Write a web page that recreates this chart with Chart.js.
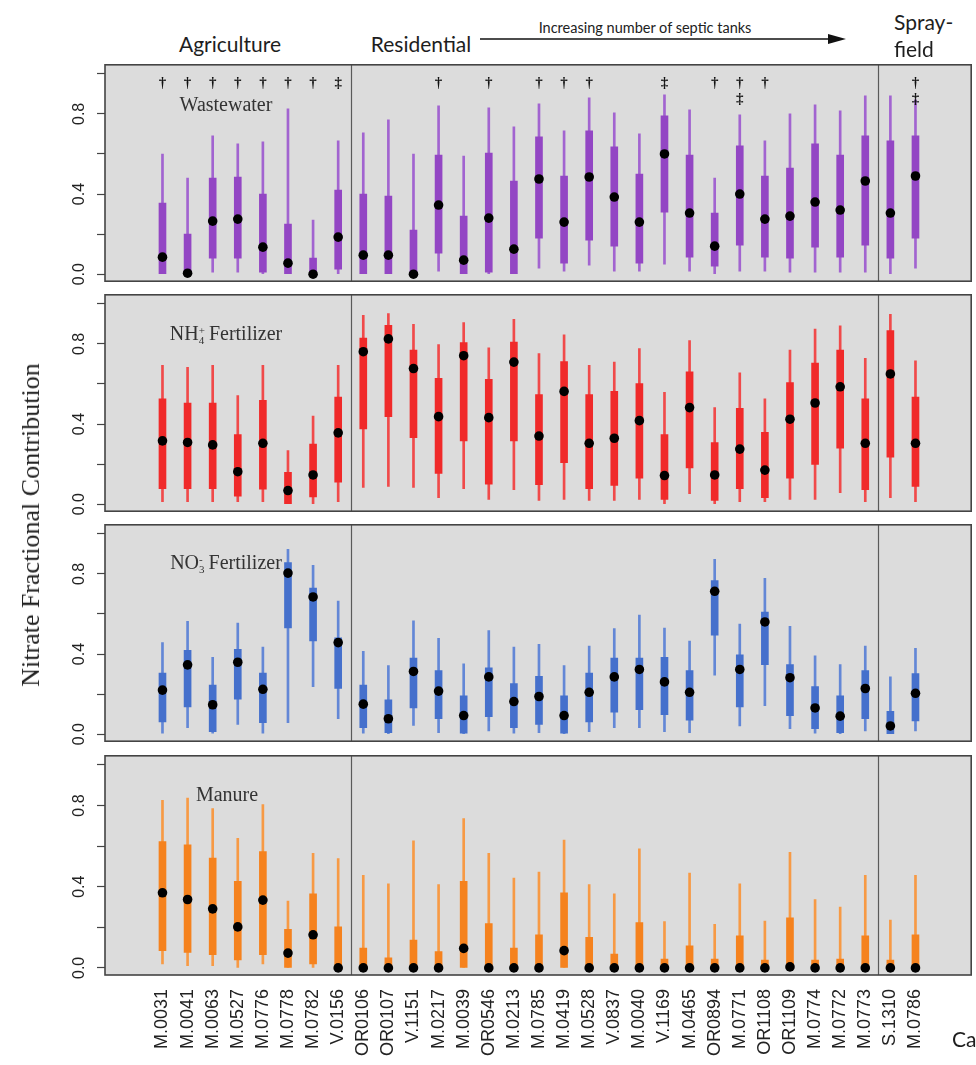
<!DOCTYPE html>
<html>
<head>
<meta charset="utf-8">
<title>Nitrate fractional contribution by well</title>
<script src="https://cdn.jsdelivr.net/npm/chart.js@4.4.1/dist/chart.umd.min.js"></script>
<style>
    body { margin: 0; background: #fff; }
    #figure { position: relative; width: 976px; height: 1065px; overflow: hidden; background: #fff; }
    #figure canvas { position: absolute; left: 0; }
    .note { position: absolute; white-space: nowrap; transform: translate(-50%, -50%); z-index: 2; }
    .group { font-family: Lato, "Open Sans", sans-serif; font-size: 21px; color: #1e1e1e; }
    .source { font-family: "Liberation Serif", "Times New Roman", serif; font-size: 20px; color: #333; }
    .ion { display: inline-flex; flex-direction: column; font-size: 11px; line-height: 10px; vertical-align: 6px; margin-right: 4px; }
    #septic { font-family: Lato, "Open Sans", sans-serif; font-size: 14.5px; color: #222; }
    #yTitle { font-family: "Liberation Serif", "Times New Roman", serif; font-size: 26px; color: #222;
              transform: translate(-50%, -50%) rotate(-90deg); }
    #arrow { position: absolute; left: 480px; top: 30px; }
</style>
</head>
<body>
<div id="figure">
    <canvas id="wastewaterChart" width="976" height="226" style="top:60px"></canvas>
    <canvas id="ammoniumChart" width="976" height="226" style="top:290px"></canvas>
    <canvas id="nitrateChart" width="976" height="226" style="top:520px"></canvas>
    <canvas id="manureChart" width="976" height="314" style="top:751px"></canvas>

    <div class="note group" style="left:230px; top:43px">Agriculture</div>
    <div class="note group" style="left:421px; top:43px">Residential</div>
    <div class="note" id="septic" style="left:645px; top:27px">Increasing number of septic tanks</div>
    <svg id="arrow" width="370" height="18">
        <line x1="0" y1="9" x2="352" y2="9" stroke="#111" stroke-width="1.6"/>
        <polygon points="366,9 348,4 348,14" fill="#111"/>
    </svg>
    <div class="note group" style="left:894px; top:21px; transform:translate(0,-50%)">Spray-</div>
    <div class="note group" style="left:894px; top:48px; transform:translate(0,-50%)">field</div>

    <div class="note source" style="left:226px; top:104px">Wastewater</div>
    <div class="note source" style="left:226px; top:333px">NH<span class="ion"><span>+</span><span>4</span></span>Fertilizer</div>
    <div class="note source" style="left:226px; top:562px">NO<span class="ion"><span>-</span><span>3</span></span>Fertilizer</div>
    <div class="note source" style="left:227px; top:794px">Manure</div>

    <div class="note" id="yTitle" style="left:31px; top:525px">Nitrate Fractional Contribution</div>
    <div class="note group" style="left:952px; top:1038px; transform:translate(0,-50%)">Ca</div>
</div>

<script>
"use strict";

const sites = [
    "M.0031", "M.0041", "M.0063", "M.0527", "M.0776", "M.0778", "M.0782", "V.0156",
    "OR0106", "OR0107", "V.1151", "M.0217", "M.0039", "OR0546", "M.0213", "M.0785",
    "M.0419", "M.0528", "V.0837", "M.0040", "V.1169", "M.0465", "OR0894", "M.0771",
    "OR1108", "OR1109", "M.0774", "M.0772", "M.0773", "S.1310", "M.0786"
];

const yTickValues = [0, 0.2, 0.4, 0.6, 0.8, 1.0];
const yTickLabels = ["0.0", "", "0.4", "", "0.8", ""];

// land-use boundaries: agriculture | residential | sprayfield
const groupBreaks = [8.5, 29.5];

// significance marks above the wastewater boxes
const markFirstRow = [
    "†", "†", "†", "†", "†", "†", "†", "‡",
    "", "", "", "†", "", "†", "", "†",
    "†", "†", "", "", "‡", "", "†", "†",
    "†", "", "", "", "", "", "†"
];
const markSecondRow = [
    "", "", "", "", "", "", "", "",
    "", "", "", "", "", "", "", "",
    "", "", "", "", "", "", "", "‡",
    "", "", "", "", "", "", "‡"
];

// Wastewater
const wastewaterMin = [0, 0, 0.01, 0.01, 0, 0, 0, 0, 0, 0, 0, 0.015, 0, 0, 0, 0.03, 0.015, 0.045, 0.015, 0.015, 0.05, 0.015, 0, 0.015, 0.015, 0.01, 0.01, 0.01, 0.01, 0, 0.03];
const wastewaterQ1 = [0, 0, 0.08, 0.08, 0.01, 0, 0, 0.025, 0, 0, 0, 0.105, 0, 0.01, 0, 0.18, 0.055, 0.17, 0.14, 0.055, 0.31, 0.085, 0.04, 0.145, 0.085, 0.08, 0.135, 0.085, 0.145, 0.08, 0.18];
const wastewaterMedian = [0.085, 0.005, 0.265, 0.275, 0.135, 0.055, 0, 0.185, 0.095, 0.095, 0, 0.345, 0.07, 0.28, 0.125, 0.475, 0.26, 0.485, 0.385, 0.26, 0.6, 0.305, 0.14, 0.4, 0.275, 0.29, 0.36, 0.32, 0.465, 0.305, 0.49];
const wastewaterQ3 = [0.355, 0.2, 0.48, 0.485, 0.4, 0.25, 0.08, 0.42, 0.4, 0.39, 0.22, 0.595, 0.29, 0.605, 0.465, 0.685, 0.49, 0.715, 0.635, 0.5, 0.79, 0.595, 0.305, 0.64, 0.49, 0.53, 0.65, 0.595, 0.69, 0.665, 0.69];
const wastewaterMax = [0.6, 0.48, 0.69, 0.65, 0.66, 0.825, 0.27, 0.665, 0.705, 0.77, 0.6, 0.84, 0.59, 0.83, 0.735, 0.85, 0.715, 0.88, 0.805, 0.7, 0.895, 0.82, 0.48, 0.795, 0.665, 0.8, 0.845, 0.815, 0.89, 0.89, 0.87];

// NH4+ fertilizer
const ammoniumMin = [0.013, 0.013, 0.013, 0.013, 0.013, 0, 0, 0.013, 0.084, 0.089, 0.084, 0.032, 0.078, 0.024, 0.073, 0.019, 0.024, 0.019, 0.019, 0.024, 0, 0.052, 0, 0.013, 0.013, 0.024, 0.024, 0.057, 0.013, 0.032, 0.013];
const ammoniumQ1 = [0.078, 0.078, 0.078, 0.04, 0.075, 0.003, 0.036, 0.11, 0.376, 0.437, 0.332, 0.154, 0.316, 0.1, 0.316, 0.097, 0.207, 0.078, 0.094, 0.13, 0.024, 0.181, 0.019, 0.078, 0.032, 0.13, 0.198, 0.279, 0.073, 0.235, 0.089];
const ammoniumMedian = [0.316, 0.308, 0.296, 0.162, 0.304, 0.068, 0.146, 0.356, 0.761, 0.825, 0.677, 0.437, 0.741, 0.432, 0.709, 0.34, 0.563, 0.304, 0.329, 0.417, 0.143, 0.482, 0.146, 0.275, 0.17, 0.424, 0.505, 0.586, 0.304, 0.65, 0.304];
const ammoniumQ3 = [0.526, 0.505, 0.505, 0.348, 0.518, 0.159, 0.3, 0.534, 0.829, 0.893, 0.769, 0.628, 0.806, 0.623, 0.809, 0.547, 0.712, 0.547, 0.563, 0.602, 0.348, 0.66, 0.308, 0.478, 0.359, 0.607, 0.704, 0.769, 0.526, 0.866, 0.534];
const ammoniumMax = [0.693, 0.683, 0.693, 0.542, 0.693, 0.267, 0.44, 0.693, 0.942, 0.951, 0.898, 0.796, 0.906, 0.78, 0.922, 0.752, 0.845, 0.693, 0.709, 0.777, 0.558, 0.817, 0.482, 0.655, 0.526, 0.769, 0.874, 0.89, 0.728, 0.947, 0.715];

// NO3- fertilizer
const nitrateMin = [0.005, 0.033, 0.005, 0.049, 0.005, 0.057, 0.237, 0.077, 0.005, 0, 0.044, 0.008, 0, 0.016, 0.005, 0.008, 0, 0.012, 0.033, 0.033, 0.012, 0.008, 0.294, 0.041, 0.142, 0.028, 0.005, 0, 0.016, 0, 0.016];
const nitrateQ1 = [0.061, 0.136, 0.012, 0.175, 0.057, 0.53, 0.465, 0.228, 0.033, 0.008, 0.131, 0.077, 0.005, 0.087, 0.033, 0.049, 0.005, 0.061, 0.11, 0.122, 0.098, 0.07, 0.494, 0.136, 0.347, 0.093, 0.028, 0.008, 0.077, 0, 0.066];
const nitrateMedian = [0.22, 0.346, 0.147, 0.359, 0.224, 0.804, 0.685, 0.457, 0.15, 0.077, 0.313, 0.215, 0.093, 0.286, 0.163, 0.188, 0.093, 0.209, 0.286, 0.323, 0.261, 0.209, 0.713, 0.323, 0.56, 0.282, 0.131, 0.09, 0.228, 0.041, 0.204];
const nitrateQ3 = [0.305, 0.419, 0.245, 0.424, 0.305, 0.856, 0.729, 0.481, 0.245, 0.171, 0.38, 0.318, 0.191, 0.331, 0.253, 0.289, 0.191, 0.305, 0.38, 0.38, 0.384, 0.318, 0.767, 0.396, 0.609, 0.347, 0.237, 0.191, 0.318, 0.114, 0.302];
const nitrateMax = [0.457, 0.563, 0.384, 0.555, 0.435, 0.922, 0.843, 0.664, 0.413, 0.342, 0.566, 0.478, 0.351, 0.517, 0.435, 0.449, 0.342, 0.44, 0.527, 0.595, 0.53, 0.465, 0.873, 0.55, 0.778, 0.538, 0.391, 0.347, 0.44, 0.286, 0.429];

// Manure
const manureMin = [0.02, 0.011, 0.011, 0, 0.02, 0, 0, 0, 0, 0, 0, 0, 0, 0, 0, 0, 0, 0, 0, 0, 0, 0, 0, 0, 0, 0, 0, 0, 0, 0, 0];
const manureQ1 = [0.085, 0.076, 0.065, 0.039, 0.065, 0, 0.02, 0, 0, 0, 0, 0, 0, 0, 0, 0, 0, 0, 0, 0, 0, 0, 0, 0, 0, 0, 0, 0, 0, 0, 0];
const manureMedian = [0.37, 0.337, 0.291, 0.202, 0.334, 0.073, 0.163, 0, 0, 0, 0, 0, 0.096, 0, 0, 0, 0.085, 0, 0, 0, 0, 0, 0, 0, 0, 0.005, 0, 0, 0, 0, 0];
const manureQ3 = [0.622, 0.606, 0.541, 0.427, 0.573, 0.19, 0.365, 0.202, 0.098, 0.049, 0.137, 0.081, 0.427, 0.218, 0.098, 0.163, 0.37, 0.15, 0.068, 0.223, 0.044, 0.109, 0.044, 0.158, 0.039, 0.247, 0.039, 0.044, 0.158, 0.039, 0.163];
const manureMax = [0.826, 0.837, 0.785, 0.638, 0.805, 0.329, 0.565, 0.538, 0.456, 0.414, 0.626, 0.41, 0.736, 0.565, 0.443, 0.472, 0.63, 0.41, 0.365, 0.587, 0.228, 0.467, 0.215, 0.414, 0.231, 0.57, 0.337, 0.3, 0.456, 0.235, 0.456];

// background, group dividers, frame and the significance marks
const panelFrame = {
    id: "panelFrame",
    beforeDraw(chart) {
        const { ctx, chartArea: area } = chart;
        ctx.save();
        ctx.fillStyle = "#dcdcdc";
        ctx.fillRect(area.left, area.top, area.width, area.height);
        ctx.restore();
    },
    afterDatasetsDraw(chart, args, opts) {
        const { ctx, chartArea: area, scales: { x, y } } = chart;
        ctx.save();

        ctx.strokeStyle = "#5a5a5a";
        ctx.lineWidth = 1.2;
        groupBreaks.forEach(b => {
            const px = Math.round(x.getPixelForValue(b)) + 0.5;
            ctx.beginPath();
            ctx.moveTo(px, area.top);
            ctx.lineTo(px, area.bottom);
            ctx.stroke();
        });

        ctx.strokeStyle = "#444";
        ctx.lineWidth = 1.6;
        ctx.strokeRect(area.left, area.top, area.width, area.height);

        if (opts.marks) {
            ctx.fillStyle = "#111";
            ctx.font = "bold 15px 'Liberation Serif', serif";
            ctx.textAlign = "center";
            ctx.textBaseline = "middle";
            sites.forEach((s, i) => {
                const px = x.getPixelForValue(i + 1);
                if (markFirstRow[i]) {
                    ctx.fillText(markFirstRow[i], px, y.getPixelForValue(0.955));
                }
                if (markSecondRow[i]) {
                    ctx.fillText(markSecondRow[i], px, y.getPixelForValue(0.875));
                }
            });
        }
        ctx.restore();
    }
};

function makePanel(canvasId, colors, lows, q1s, medians, q3s, highs, options) {
    const ctx = document.getElementById(canvasId);
    const showSites = !!options.showSites;

    return new Chart(ctx, {
        type: "bar",
        data: {
            datasets: [
                {
                    label: "median",
                    type: "scatter",
                    data: sites.map((s, i) => ({ x: i + 1, y: medians[i] })),
                    pointRadius: 4.8,
                    pointBackgroundColor: "#000",
                    pointBorderWidth: 0,
                    clip: false,
                    order: 0
                },
                {
                    label: "interquartile",
                    data: sites.map((s, i) => ({ x: i + 1, y: [q1s[i], q3s[i]] })),
                    backgroundColor: colors.box,
                    barThickness: 7,
                    grouped: false,
                    borderWidth: 0,
                    order: 1
                },
                {
                    label: "range",
                    data: sites.map((s, i) => ({ x: i + 1, y: [lows[i], highs[i]] })),
                    backgroundColor: colors.whisker,
                    barThickness: 2,
                    grouped: false,
                    borderWidth: 0,
                    order: 2
                }
            ]
        },
        options: {
            responsive: false,
            animation: false,
            devicePixelRatio: 1,
            layout: {
                padding: { top: 2, right: 1, bottom: showSites ? 0 : 2, left: 0 }
            },
            plugins: {
                legend: { display: false },
                tooltip: { enabled: false },
                panelFrame: { marks: !!options.marks }
            },
            scales: {
                x: {
                    type: "linear",
                    min: -1.29,
                    max: 33.22,
                    offset: false,
                    display: showSites,
                    grid: { display: false, drawTicks: false, offset: false },
                    border: { display: false },
                    afterBuildTicks: scale => {
                        scale.ticks = sites.map((s, i) => ({ value: i + 1 }));
                    },
                    afterFit: scale => {
                        scale.height = showSites ? 90 : 0;
                        scale.paddingLeft = 0;
                        scale.paddingRight = 0;
                    },
                    ticks: {
                        autoSkip: false,
                        minRotation: 90,
                        maxRotation: 90,
                        padding: 14,
                        color: "#222",
                        font: { family: "'Liberation Sans', Arial, sans-serif", size: 18 },
                        callback: value => sites[value - 1] ?? ""
                    }
                },
                y: {
                    min: -0.035,
                    max: 1.045,
                    afterBuildTicks: scale => {
                        scale.ticks = yTickValues.map(v => ({ value: v }));
                    },
                    afterFit: scale => {
                        scale.width = 105;
                        scale.paddingTop = 0;
                        scale.paddingBottom = 0;
                    },
                    grid: {
                        drawOnChartArea: false,
                        drawTicks: true,
                        tickLength: 8,
                        tickWidth: 1.2,
                        tickColor: "#444"
                    },
                    border: { display: false },
                    ticks: {
                        minRotation: 90,
                        maxRotation: 90,
                        crossAlign: "center",
                        padding: 6,
                        color: "#222",
                        font: { family: "'Liberation Sans', Arial, sans-serif", size: 16 },
                        callback: (value, index) => yTickLabels[index] ?? ""
                    }
                }
            }
        },
        plugins: [panelFrame]
    });
}

document.addEventListener("DOMContentLoaded", () => {
    makePanel("wastewaterChart",
        { box: "#9346c4", whisker: "#a264d0" },
        wastewaterMin, wastewaterQ1, wastewaterMedian, wastewaterQ3, wastewaterMax,
        { marks: true });

    makePanel("ammoniumChart",
        { box: "#f02a2a", whisker: "#f04a4a" },
        ammoniumMin, ammoniumQ1, ammoniumMedian, ammoniumQ3, ammoniumMax,
        {});

    makePanel("nitrateChart",
        { box: "#4570cc", whisker: "#6387d6" },
        nitrateMin, nitrateQ1, nitrateMedian, nitrateQ3, nitrateMax,
        {});

    makePanel("manureChart",
        { box: "#f5821e", whisker: "#f79a45" },
        manureMin, manureQ1, manureMedian, manureQ3, manureMax,
        { showSites: true });
});
</script>
</body>
</html>
